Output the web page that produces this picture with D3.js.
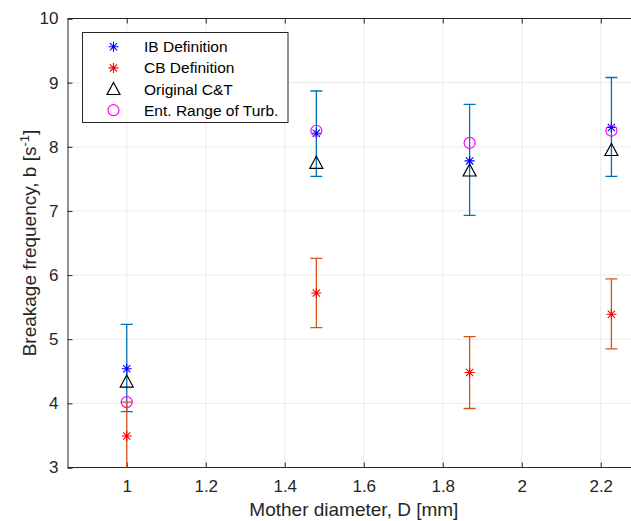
<!DOCTYPE html>
<html><head><meta charset="utf-8">
<script src="https://cdn.jsdelivr.net/npm/d3@7"></script>
<style>body{margin:0;background:#fff}svg{display:block}text{font-family:"Liberation Sans",Arial,sans-serif}</style>
</head><body>
<script>
const diameters = [1.0, 1.48, 1.868, 2.227];
const ibValues = [4.54, 8.21, 7.78, 8.30];
const ibLow = [3.87, 7.54, 6.93, 7.54];
const ibHigh = [5.23, 8.87, 8.66, 9.08];
const cbValues = [3.49, 5.72, 4.48, 5.39];
const cbLow = [2.98, 5.18, 3.92, 4.85];
const cbHigh = [4.02, 6.26, 5.04, 5.94];
const ctValues = [4.34, 7.75, 7.63, 7.95];
const entValues = [4.02, 8.25, 8.06, 8.25];
const xTicks = [1, 1.2, 1.4, 1.6, 1.8, 2, 2.2];
const yTicks = [3, 4, 5, 6, 7, 8, 9, 10];
const legendLabels = ["IB Definition", "CB Definition", "Original C&T", "Ent. Range of Turb."];

const W = 631, H = 521;
const L = 67.5, T = 18.5, B = 467.5;
const x = d3.scaleLinear().domain([0.85, 2.3]).range([L, L + 1.45 * 395]);
const y = d3.scaleLinear().domain([3, 10]).range([B, T]);
const R = x(2.3);

const svg = d3.select("body").append("svg").attr("width", W).attr("height", H);
const defs = svg.append("defs");
defs.append("clipPath").attr("id", "clip").append("rect")
  .attr("x", L).attr("y", T).attr("width", R - L).attr("height", B - T);

// grid
const grid = svg.append("g");
grid.selectAll(".gx").data(xTicks).join("line")
  .attr("x1", d => x(d)).attr("x2", d => x(d)).attr("y1", T).attr("y2", B)
  .attr("stroke", "#ebebeb").attr("stroke-width", 1);
grid.selectAll(".gy").data(yTicks).join("line")
  .attr("x1", L).attr("x2", R).attr("y1", d => y(d)).attr("y2", d => y(d))
  .attr("stroke", "#ebebeb").attr("stroke-width", 1);

// axes
const axCol = "#262626";
const xAxis = svg.append("g").attr("transform", `translate(0,${B})`)
  .call(d3.axisBottom(x).tickValues(xTicks).tickSize(-5).tickPadding(12).tickFormat(d3.format("")));
const xTop = svg.append("g").attr("transform", `translate(0,${T})`)
  .call(d3.axisTop(x).tickValues(xTicks).tickSize(-5).tickFormat(""));
const yAxis = svg.append("g").attr("transform", `translate(${L},0)`)
  .call(d3.axisLeft(y).tickValues(yTicks).tickSize(-5).tickPadding(9).tickFormat(d3.format("")));
[xAxis, xTop, yAxis].forEach(g => {
  g.select(".domain").attr("stroke", axCol).attr("stroke-width", 1);
  g.selectAll(".tick line").attr("stroke", axCol);
  g.selectAll(".tick text").attr("fill", "#262626").style("font-size", "17px")
    .style("font-family", '"Liberation Sans",Arial,sans-serif');
});
xAxis.selectAll(".domain").attr("d", `M${L},0H${R}`);
xTop.selectAll(".domain").attr("d", `M${L},0H${R}`);

// axis labels
svg.append("text").attr("x", (L + R) / 2).attr("y", 516).attr("text-anchor", "middle")
  .attr("fill", "#262626").style("font-size", "19px").text("Mother diameter, D [mm]");
const yl = svg.append("text").attr("transform", `translate(36,${(T + B) / 2}) rotate(-90)`)
  .attr("text-anchor", "middle").attr("fill", "#262626").style("font-size", "19px");
yl.append("tspan").text("Breakage frequency, b [s");
yl.append("tspan").attr("dy", -7).style("font-size", "13px").text("-1");
yl.append("tspan").attr("dy", 7).text("]");

const plot = svg.append("g").attr("clip-path", "url(#clip)");

// error bars
function errbars(low, high, color) {
  const g = plot.append("g").attr("stroke", color).attr("stroke-width", 1.3).attr("fill", "none");
  diameters.forEach((d, i) => {
    const cx = x(d);
    g.append("line").attr("x1", cx).attr("x2", cx).attr("y1", y(low[i])).attr("y2", y(high[i]));
    g.append("line").attr("x1", cx - 6).attr("x2", cx + 6).attr("y1", y(low[i])).attr("y2", y(low[i]));
    g.append("line").attr("x1", cx - 6).attr("x2", cx + 6).attr("y1", y(high[i])).attr("y2", y(high[i]));
  });
}
errbars(ibLow, ibHigh, "#0072BD");
errbars(cbLow, cbHigh, "#D95319");

// markers
function asterisk(g, cx, cy, color) {
  const r = 5, q = 3.6;
  g.append("path").attr("d",
    `M${cx - r},${cy}H${cx + r}M${cx},${cy - r}V${cy + r}M${cx - q},${cy - q}L${cx + q},${cy + q}M${cx - q},${cy + q}L${cx + q},${cy - q}`)
    .attr("stroke", color).attr("stroke-width", 1.1).attr("fill", "none");
}
function triangle(g, cx, cy) {
  g.append("path").attr("d", `M${cx},${cy - 6.5}L${cx + 6.5},${cy + 5.5}L${cx - 6.5},${cy + 5.5}Z`)
    .attr("stroke", "#000").attr("stroke-width", 1.2).attr("fill", "none");
}
function circle(g, cx, cy) {
  g.append("circle").attr("cx", cx).attr("cy", cy).attr("r", 5.5)
    .attr("stroke", "#ff00ff").attr("stroke-width", 1.2).attr("fill", "none");
}
const mk = plot.append("g");
diameters.forEach((d, i) => asterisk(mk, x(d), y(ibValues[i]), "#0000ff"));
diameters.forEach((d, i) => asterisk(mk, x(d), y(cbValues[i]), "#ff0000"));
diameters.forEach((d, i) => triangle(mk, x(d), y(ctValues[i])));
diameters.forEach((d, i) => circle(mk, x(d), y(entValues[i])));

// legend
const lg = svg.append("g");
lg.append("rect").attr("x", 82.5).attr("y", 32.5).attr("width", 205.5).attr("height", 90)
  .attr("fill", "#fff").attr("stroke", "#262626").attr("stroke-width", 1);
const rowsY = [46.7, 67.9, 89, 110.2];
asterisk(lg, 113.5, rowsY[0], "#0000ff");
asterisk(lg, 113.5, rowsY[1], "#ff0000");
triangle(lg, 113.5, rowsY[2]);
circle(lg, 113.5, rowsY[3]);
lg.selectAll(".lt").data(legendLabels).join("text")
  .attr("x", 144).attr("y", (d, i) => rowsY[i] + 5.5)
  .attr("fill", "#000").style("font-size", "15.5px").text(d => d);
</script>
</body></html>
